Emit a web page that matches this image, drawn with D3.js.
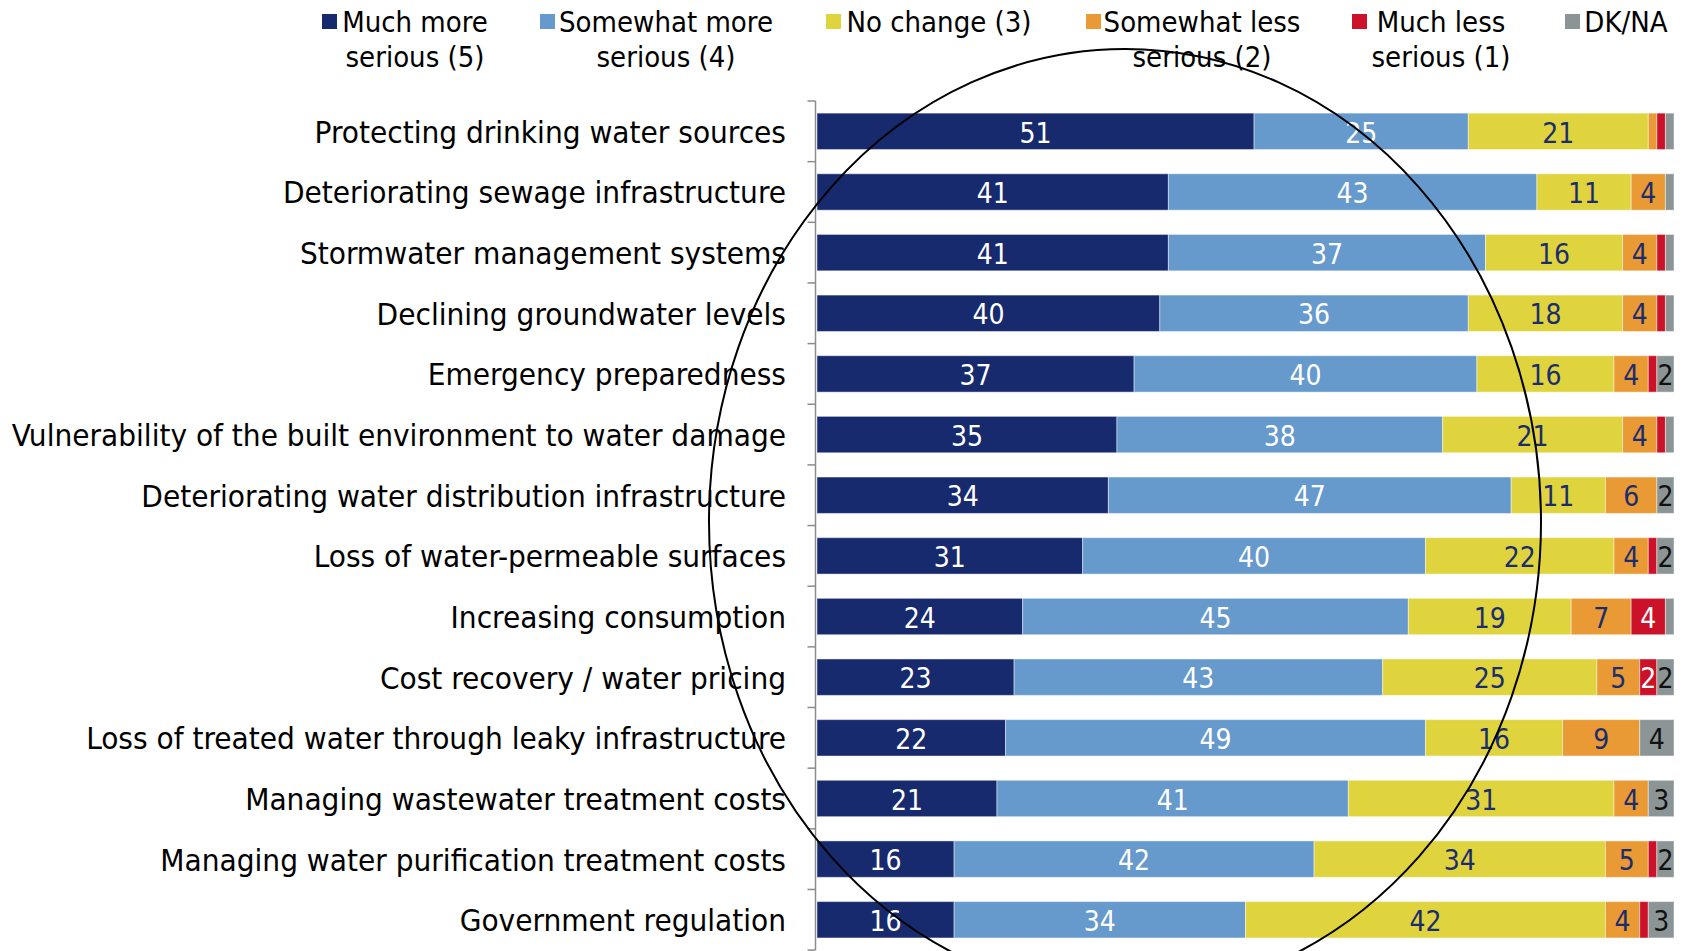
<!DOCTYPE html>
<html>
<head>
<meta charset="utf-8">
<script src="https://cdn.jsdelivr.net/npm/d3@7"></script>
<style>
	body { margin: 0; background: #fff; }
	text { font-family: 'DejaVu Sans Condensed', 'DejaVu Sans', sans-serif; }
	.axis path, .axis line { stroke: #8c8c8c; stroke-width: 1.5; }
</style>
</head>
<body>
<svg id="chart"></svg>
<script>
const CATEGORIES = [
	'Protecting drinking water sources',
	'Deteriorating sewage infrastructure',
	'Stormwater management systems',
	'Declining groundwater levels',
	'Emergency preparedness',
	'Vulnerability of the built environment to water damage',
	'Deteriorating water distribution infrastructure',
	'Loss of water-permeable surfaces',
	'Increasing consumption',
	'Cost recovery / water pricing',
	'Loss of treated water through leaky infrastructure',
	'Managing wastewater treatment costs',
	'Managing water purification treatment costs',
	'Government regulation'
];

const SERIES = ['much_more', 'somewhat_more', 'no_change', 'somewhat_less', 'much_less', 'dk_na'];
const LEGEND_LINES = [
	['Much more', 'serious (5)'],
	['Somewhat more', 'serious (4)'],
	['No change (3)'],
	['Somewhat less', 'serious (2)'],
	['Much less', 'serious (1)'],
	['DK/NA']
];

const MUCH_MORE     = [51, 41, 41, 40, 37, 35, 34, 31, 24, 23, 22, 21, 16, 16];
const SOMEWHAT_MORE = [25, 43, 37, 36, 40, 38, 47, 40, 45, 43, 49, 41, 42, 34];
const NO_CHANGE     = [21, 11, 16, 18, 16, 21, 11, 22, 19, 25, 16, 31, 34, 42];
const SOMEWHAT_LESS = [ 1,  4,  4,  4,  4,  4,  6,  4,  7,  5,  9,  4,  5,  4];
const MUCH_LESS     = [ 1,  0,  1,  1,  1,  1,  0,  1,  4,  2,  0,  0,  1,  1];
const DK_NA         = [ 1,  1,  1,  1,  2,  1,  2,  2,  1,  2,  4,  3,  2,  3];

const COLORS = ['#172a6e', '#6699cc', '#dfd43e', '#e99a35', '#cc1228', '#8c9596'];
const LABEL_COLORS = ['#ffffff', '#ffffff', '#1c2d6e', '#1c2d6e', '#ffffff', '#111111'];

const SVG_WIDTH = 1686;
const SVG_HEIGHT = 951;
const MARGIN = { top: 101, right: 12, bottom: 0, left: 817 };
const WIDTH = SVG_WIDTH - MARGIN.left - MARGIN.right;
const HEIGHT = 60.65 * CATEGORIES.length;

const rows = CATEGORIES.map((c, i) => ({
	category: c,
	much_more: MUCH_MORE[i],
	somewhat_more: SOMEWHAT_MORE[i],
	no_change: NO_CHANGE[i],
	somewhat_less: SOMEWHAT_LESS[i],
	much_less: MUCH_LESS[i],
	dk_na: DK_NA[i]
}));

const x = d3.scaleLinear().domain([0, 100]).range([0, 857]);
const y = d3.scaleBand().domain(CATEGORIES).range([0, HEIGHT]).paddingInner(0.4).paddingOuter(0.2);

const root = d3.select('#chart')
	.attr('width', SVG_WIDTH)
	.attr('height', SVG_HEIGHT);

const svg = root.append('g')
	.attr('transform', 'translate(' + MARGIN.left + ', ' + MARGIN.top + ')');

const stacked = d3.stack().keys(SERIES)(rows);

const layers = svg.selectAll('.layer')
	.data(stacked)
	.enter()
	.append('g')
		.attr('class', 'layer')
		.attr('fill', (d, i) => COLORS[i]);

layers.selectAll('rect')
	.data(d => d)
	.enter()
	.append('rect')
		.attr('x', d => x(d[0]))
		.attr('y', d => y(d.data.category))
		.attr('width', d => x(d[1]) - x(d[0]))
		.attr('height', y.bandwidth())
		.attr('stroke', '#fff')
		.attr('stroke-opacity', 0.45)
		.attr('stroke-width', 1);

// value labels, only where the segment is big enough
stacked.forEach((layer, i) => {
	svg.selectAll('.val-' + i)
		.data(layer.filter(d => d[1] - d[0] >= 2))
		.enter()
		.append('text')
			.attr('class', 'val-' + i)
			.attr('x', d => (x(d[0]) + x(d[1])) / 2)
			.attr('y', d => y(d.data.category) + y.bandwidth() / 2)
			.attr('dy', '0.4em')
			.attr('text-anchor', 'middle')
			.attr('fill', LABEL_COLORS[i])
			.style('font-size', '28px')
			.text(d => d[1] - d[0]);
});

// Y-Axis
svg.append('g')
	.attr('class', 'axis')
	.attr('transform', 'translate(-1.5, 0)')
	.call(d3.axisLeft(y).tickSize(0).tickFormat(''))
	.call(g => g.select('.domain').attr('d', 'M0,0V' + HEIGHT));

svg.append('g')
	.attr('class', 'axis')
	.selectAll('line')
	.data(d3.range(CATEGORIES.length + 1))
	.enter()
	.append('line')
		.attr('x1', -9.5)
		.attr('x2', -1.5)
		.attr('y1', i => i * y.step())
		.attr('y2', i => i * y.step());

svg.selectAll('.cat-label')
	.data(CATEGORIES)
	.enter()
	.append('text')
		.attr('class', 'cat-label')
		.attr('transform', d => 'translate(-31, ' + (y(d) + y.bandwidth() / 2) + ') scale(1.04, 1)')
		.attr('dy', '0.38em')
		.attr('text-anchor', 'end')
		.attr('fill', '#000')
		.style('font-size', '30px')
		.text(d => d);

// Legend
const LEGEND_SQUARE_X = [322, 540, 826, 1086, 1352, 1565];
const LEGEND_TEXT_X = [415, 666, 939, 1202, 1441, 1626];

const legend = root.append('g').attr('class', 'legend');
LEGEND_LINES.forEach((lines, i) => {
	legend.append('rect')
		.attr('x', LEGEND_SQUARE_X[i])
		.attr('y', 14)
		.attr('width', 15)
		.attr('height', 15)
		.attr('fill', COLORS[i]);
	lines.forEach((line, j) => {
		legend.append('text')
			.attr('x', LEGEND_TEXT_X[i])
			.attr('y', 32 + j * 35)
			.attr('text-anchor', 'middle')
			.style('font-size', '29px')
			.text(line);
	});
});

// hand-drawn ring on top
root.append('ellipse')
	.attr('cx', 1125)
	.attr('cy', 522)
	.attr('rx', 416)
	.attr('ry', 473)
	.attr('fill', 'none')
	.attr('stroke', '#000')
	.attr('stroke-width', 2);
</script>
</body>
</html>
